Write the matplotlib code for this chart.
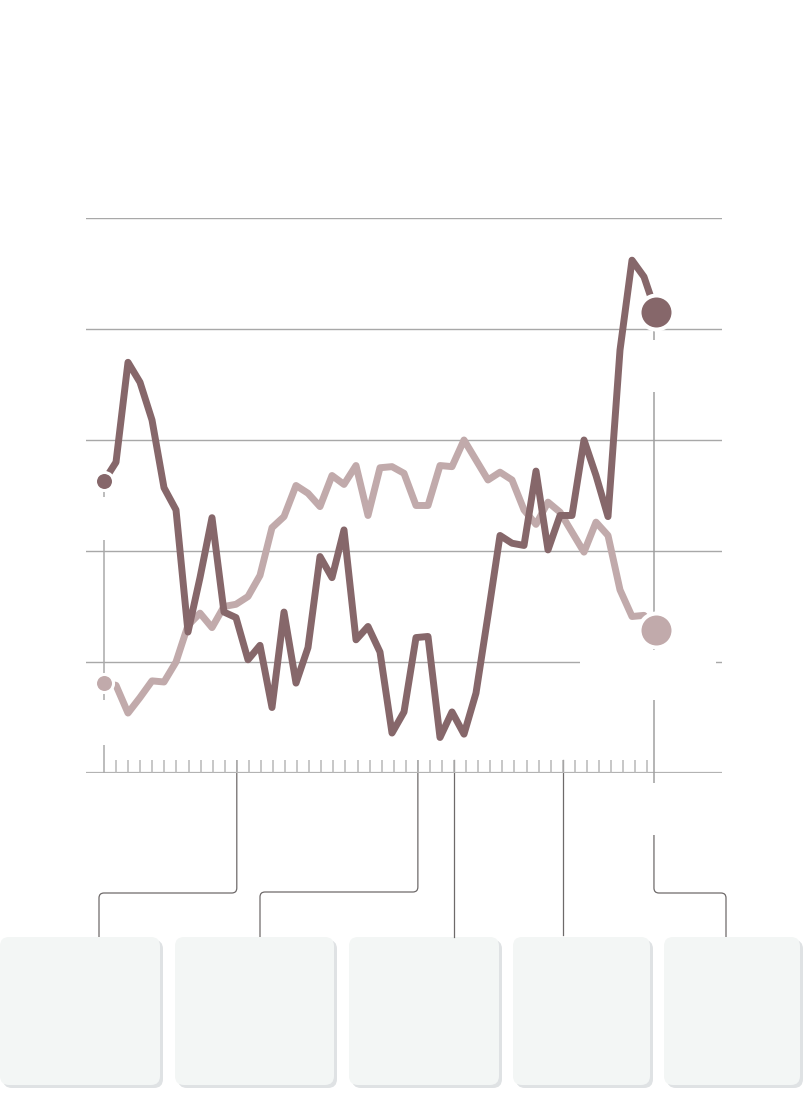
import numpy as np
import matplotlib
matplotlib.use('Agg')
import matplotlib.pyplot as plt
from matplotlib.patches import FancyBboxPatch, Rectangle
from matplotlib.path import Path
from matplotlib.patches import PathPatch

# two series, 47 evenly spaced observations
dark_vals = [2.63, 2.80, 3.70, 3.52, 3.18, 2.57, 2.37, 1.27, 1.76, 2.30,
             1.45, 1.40, 1.02, 1.15, 0.59, 1.45, 0.81, 1.13, 1.95, 1.76,
             2.19, 1.20, 1.32, 1.09, 0.36, 0.55, 1.22, 1.23, 0.32, 0.55,
             0.35, 0.72, 1.42, 2.14, 2.07, 2.05, 2.72, 2.01, 2.32, 2.32,
             3.00, 2.68, 2.31, 3.81, 4.62, 4.47, 4.15]
light_vals = [0.81, 0.79, 0.54, 0.68, 0.83, 0.82, 1.00, 1.33, 1.44, 1.31,
              1.50, 1.52, 1.59, 1.78, 2.21, 2.31, 2.59, 2.52, 2.40, 2.68,
              2.60, 2.77, 2.32, 2.75, 2.76, 2.70, 2.41, 2.41, 2.77, 2.76,
              3.00, 2.82, 2.64, 2.71, 2.64, 2.37, 2.24, 2.44, 2.35, 2.17,
              1.99, 2.26, 2.14, 1.65, 1.41, 1.42, 1.29]
x = np.arange(len(dark_vals))

grid_levels = [1, 2, 3, 4, 5]
tick_pos = np.linspace(0, 45.27, 46)
end_line = 45.83
event_ticks = [11, 26, 29, 38]

DARK = '#86676a'
LIGHT = '#c1aaab'
GRID = '#a8a8a8'
BOX = '#f3f6f5'
SHADOW = '#dfe2e4'
LEAD = '#6e6a6a'

W, H = 808, 1112
fig = plt.figure(figsize=(W / 100, H / 100), dpi=100)

# pixel overlay for the boxes and leader lines
ov = fig.add_axes([0, 0, 1, 1])
ov.set_xlim(0, W)
ov.set_ylim(H, 0)
ov.axis('off')

ax = fig.add_axes([86 / W, (H - 773) / H, 636 / W, 555 / H])
ax.patch.set_alpha(0)
ax.set_xlim(-1.5, 51.5)
ax.set_ylim(0, 5)
for s in ax.spines.values():
    s.set_visible(False)
ax.set_xticks([])
ax.set_yticks([])

for g in grid_levels:
    ax.axhline(g, color=GRID, lw=1.0, zorder=1)
ax.axhline(0, color='#b3b3b3', lw=1.6, zorder=1)
ax.vlines(tick_pos[1:], 0, 13 / 111, color='#b8b8b8', lw=1.1, zorder=1)
ax.vlines(x[0], 0, dark_vals[0], color='#aaaaaa', lw=1.1, zorder=1)
ax.vlines(end_line, -10 / 111, dark_vals[-1], color='#a0a0a0', lw=1.1,
          zorder=1, clip_on=False)

# white label backgrounds that cut the reference lines
for (x0, x1, y0, y1) in [(-1, 1, 2.10, 2.49), (-1, 1, 0.25, 0.66),
                         (44.6, 51, 3.43, 3.90), (39.7, 51.0, 0.66, 1.11)]:
    ax.add_patch(Rectangle((x0, y0), x1 - x0, y1 - y0, facecolor='white',
                           edgecolor='none', zorder=2))

ax.plot(x, light_vals, color=LIGHT, lw=5, solid_joinstyle='round', zorder=3)
ax.plot(x, dark_vals, color=DARK, lw=5, solid_joinstyle='round', zorder=3)

for vals, c in [(light_vals, LIGHT), (dark_vals, DARK)]:
    ax.plot(x[0], vals[0], 'o', ms=13, mfc=c, mec='white', mew=2.2,
            zorder=4, clip_on=False)
    ax.plot(x[-1], vals[-1], 'o', ms=24.5, mfc=c, mec='white', mew=2.9,
            zorder=4, clip_on=False)


def to_px(xv):
    d = ax.transData.transform((xv, 0))
    return ov.transData.inverted().transform(d)[0]


def elbow(x0, y0, ym, x1, y1, r=5):
    sx = 1 if x1 > x0 else -1
    verts = [(x0, y0), (x0, ym - r), (x0, ym), (x0 + sx * r, ym),
             (x1 - sx * r, ym), (x1, ym), (x1, ym + r), (x1, y1)]
    codes = [Path.MOVETO, Path.LINETO, Path.CURVE3, Path.CURVE3,
             Path.LINETO, Path.CURVE3, Path.CURVE3, Path.LINETO]
    ov.add_patch(PathPatch(Path(verts, codes), fill=False, edgecolor=LEAD,
                           lw=0.9))


# boxes
boxes = [(0, 160), (175, 334), (349, 499), (513, 650), (664, 800)]
for (bx0, bx1) in boxes:
    ov.add_patch(FancyBboxPatch((bx0 + 3, 940), bx1 - bx0, 148,
                                boxstyle='round,pad=0,rounding_size=9',
                                facecolor=SHADOW, edgecolor='none'))
    ov.add_patch(FancyBboxPatch((bx0, 937), bx1 - bx0, 148,
                                boxstyle='round,pad=0,rounding_size=9',
                                facecolor=BOX, edgecolor='none'))

e = [to_px(tick_pos[i]) for i in event_ticks]
elbow(e[0], 760, 893, 99, 937)
elbow(e[1], 760, 892, 260, 937)
ov.plot([e[2], e[2]], [760, 937], color=LEAD, lw=0.9)
ov.plot([e[3], e[3]], [760, 935], color=LEAD, lw=0.9)
elbow(to_px(end_line), 835, 893, 726, 937)

fig.savefig('out.png', dpi=100, facecolor='white')
